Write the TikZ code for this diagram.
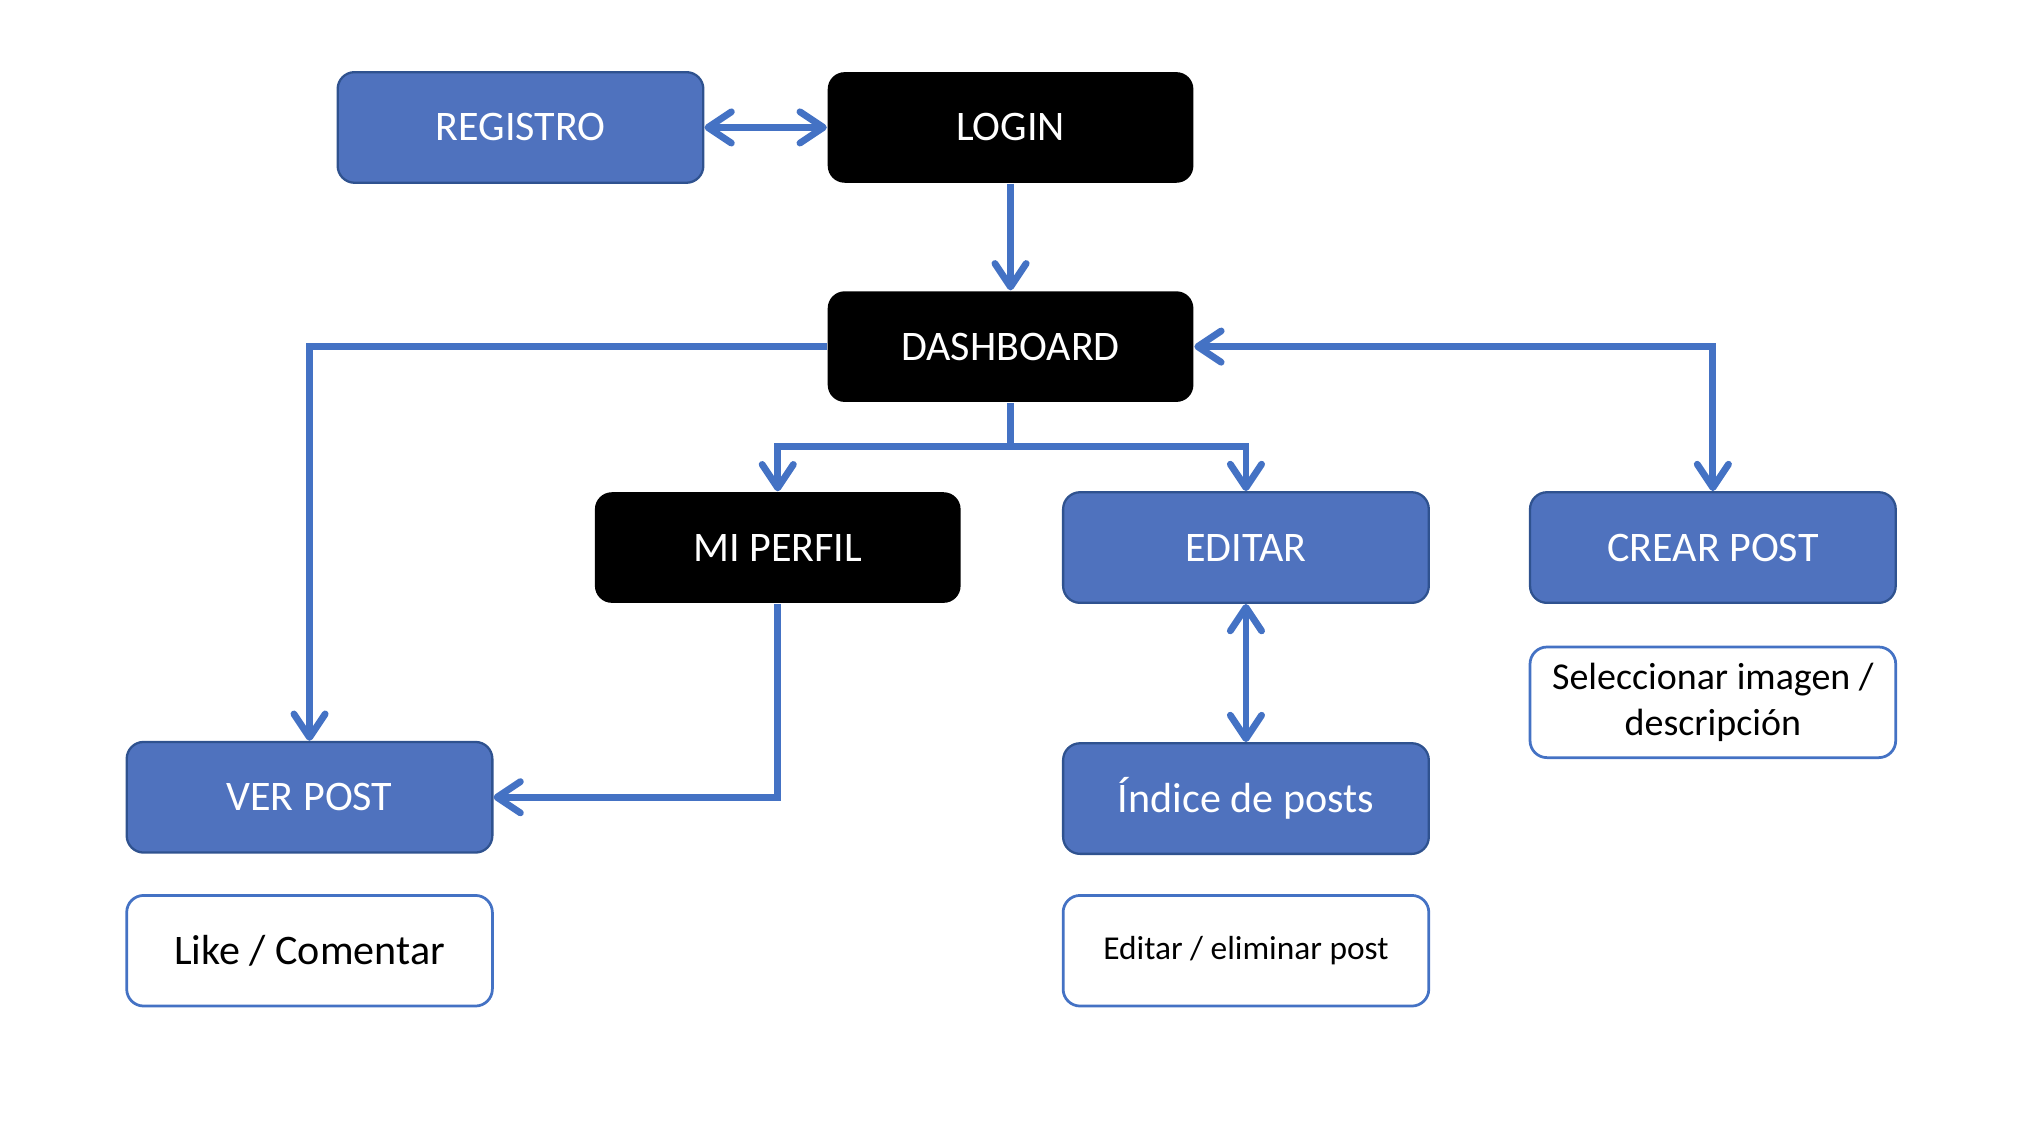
\documentclass[tikz,border=0pt]{standalone}
\usepackage{fontspec}
\setmainfont{Carlito}
\usetikzlibrary{arrows.meta, positioning}
\definecolor{boxblue}{RGB}{79,114,190}
\definecolor{boxedge}{RGB}{47,82,143}
\definecolor{linkblue}{RGB}{68,114,196}

\begin{document}
\begin{tikzpicture}[
                x=0.01cm, y=-0.01cm,
                node distance=0.82cm and 0.94cm,
                base/.style={rectangle, rounded corners=1.3mm, minimum width=2.81cm, minimum height=0.85cm, inner sep=0pt, align=center, font=\fontsize{9.2}{11}\selectfont},
                blue/.style={base, fill=boxblue, draw=boxedge, line width=0.5pt, text=white},
                dark/.style={base, fill=black, text=white},
                note/.style={base, fill=white, draw=linkblue, line width=0.6pt},
                link/.style={draw=linkblue, line width=1.5pt},
                >={Straight Barb[length=1.8mm, width=2.4mm, round]}
            ]
                \useasboundingbox (0,0) rectangle (1567,876);

                % Nodes
                \node[dark] (login) at (777,98) {LOGIN};
                \node[blue, left=of login] (registro) {REGISTRO};
                \node[dark, below=of login] (dash) {DASHBOARD};
                \node[dark] (perfil) at (598,421) {MI PERFIL};
                \node[blue] (editar) at (958,421) {EDITAR};
                \node[blue] (crear) at (1317,421) {CREAR POST};
                \node[blue] (ver) at (238,613) {VER POST};
                \node[blue] (indice) at (958,614) {Índice de posts};
                \node[note, font=\fontsize{8.3}{10}\selectfont, below=0.32cm of crear] (selec) {Seleccionar imagen /\\ descripción};
                \node[note, below=0.31cm of ver] (like) {Like / Comentar};
                \node[note, font=\fontsize{7.3}{9}\selectfont, below=0.3cm of indice] (elim) {Editar / eliminar post};

                % Connections
                \draw[link, <->] (registro) -- (login);
                \draw[link, ->] (login) -- (dash);
                \draw[link, ->] (dash.west) -| (ver.north);
                \draw[link, <->] (dash.east) -| (crear.north);
                \draw[link] (dash.south) -- (777,343) coordinate (split);
                \draw[link, ->] (split) -| (perfil.north);
                \draw[link, ->] (split) -| (editar.north);
                \draw[link, ->] (perfil.south) |- (ver.east);
                \draw[link, <->] (editar) -- (indice);

            \end{tikzpicture}
\end{document}
